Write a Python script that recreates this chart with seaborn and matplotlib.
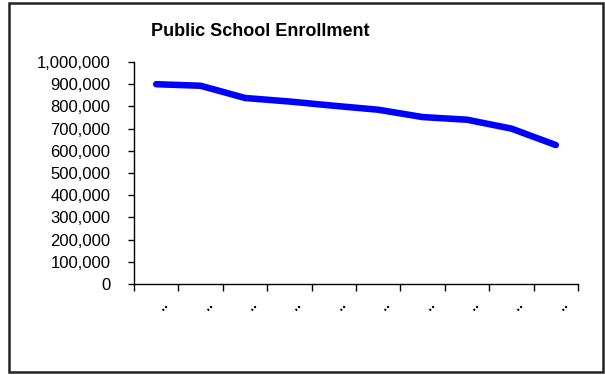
import numpy as np
import pandas as pd
import matplotlib
matplotlib.use("Agg")
import matplotlib.pyplot as plt
import matplotlib.transforms as mtransforms
import seaborn as sns
from matplotlib.patches import Rectangle
from matplotlib.ticker import FuncFormatter, FixedLocator

# 数据
categories = [".."] * 10
enrollment = [900000, 893000, 838000, 822000, 803000, 785000, 752000, 740000, 700000, 626000]

sns.set_style("white")
plt.rcParams['font.family'] = ['Liberation Sans', 'DejaVu Sans']
plt.rcParams['text.color'] = 'black'

df = pd.DataFrame({'pos': np.arange(len(enrollment)), 'enrollment': enrollment})

fig = plt.figure(figsize=(6.05, 3.75), dpi=100)
ax = fig.add_axes([134 / 605, 1 - 284 / 375, (578 - 134) / 605, (284 - 62) / 375])

sns.lineplot(data=df, x='pos', y='enrollment', ax=ax, color='#0000ff',
             linewidth=4.7, solid_capstyle='round', solid_joinstyle='round')

ax.set_xlim(-0.5, len(enrollment) - 0.5)
ax.set_ylim(0, 1000000)
ax.set_yticks(np.arange(0, 1000001, 100000))
ax.yaxis.set_major_formatter(FuncFormatter(lambda v, p: f'{int(v):,}'))
ax.tick_params(axis='y', direction='out', length=4, width=1, pad=13,
               labelsize=12, colors='black', labelcolor='black', left=True)

# 类别分隔刻度 + 类别中心标签
ax.xaxis.set_major_locator(FixedLocator(np.arange(-0.5, len(enrollment), 1.0)))
ax.xaxis.set_minor_locator(FixedLocator(df['pos'].values))
ax.set_xticklabels([''] * (len(enrollment) + 1))
ax.set_xticklabels(categories, minor=True, rotation=45, fontsize=10, fontweight='bold')
ax.tick_params(axis='x', which='major', direction='out', length=5, width=1,
               colors='black', bottom=True)
ax.tick_params(axis='x', which='minor', length=0, pad=10, labelcolor='black')
shift = mtransforms.ScaledTranslation(7 / 100, 0, fig.dpi_scale_trans)
for lbl in ax.get_xticklabels(minor=True):
    lbl.set_transform(lbl.get_transform() + shift)

ax.set_xlabel('')
ax.set_ylabel('')
for side in ['top', 'right']:
    ax.spines[side].set_visible(False)
for side in ['left', 'bottom']:
    ax.spines[side].set_color('black')
    ax.spines[side].set_linewidth(1)
ax.grid(False)

fig.text(260 / 605, 1 - 32 / 375, 'Public School Enrollment', ha='center', va='center',
         fontsize=13, fontweight='bold', color='black')

# 外框
fig.patches.append(Rectangle((9 / 605, 3 / 375), (603 - 9) / 605, (372 - 3) / 375,
                             transform=fig.transFigure, fill=False,
                             edgecolor='#222222', linewidth=1.8))

fig.savefig('out.png', dpi=100)
